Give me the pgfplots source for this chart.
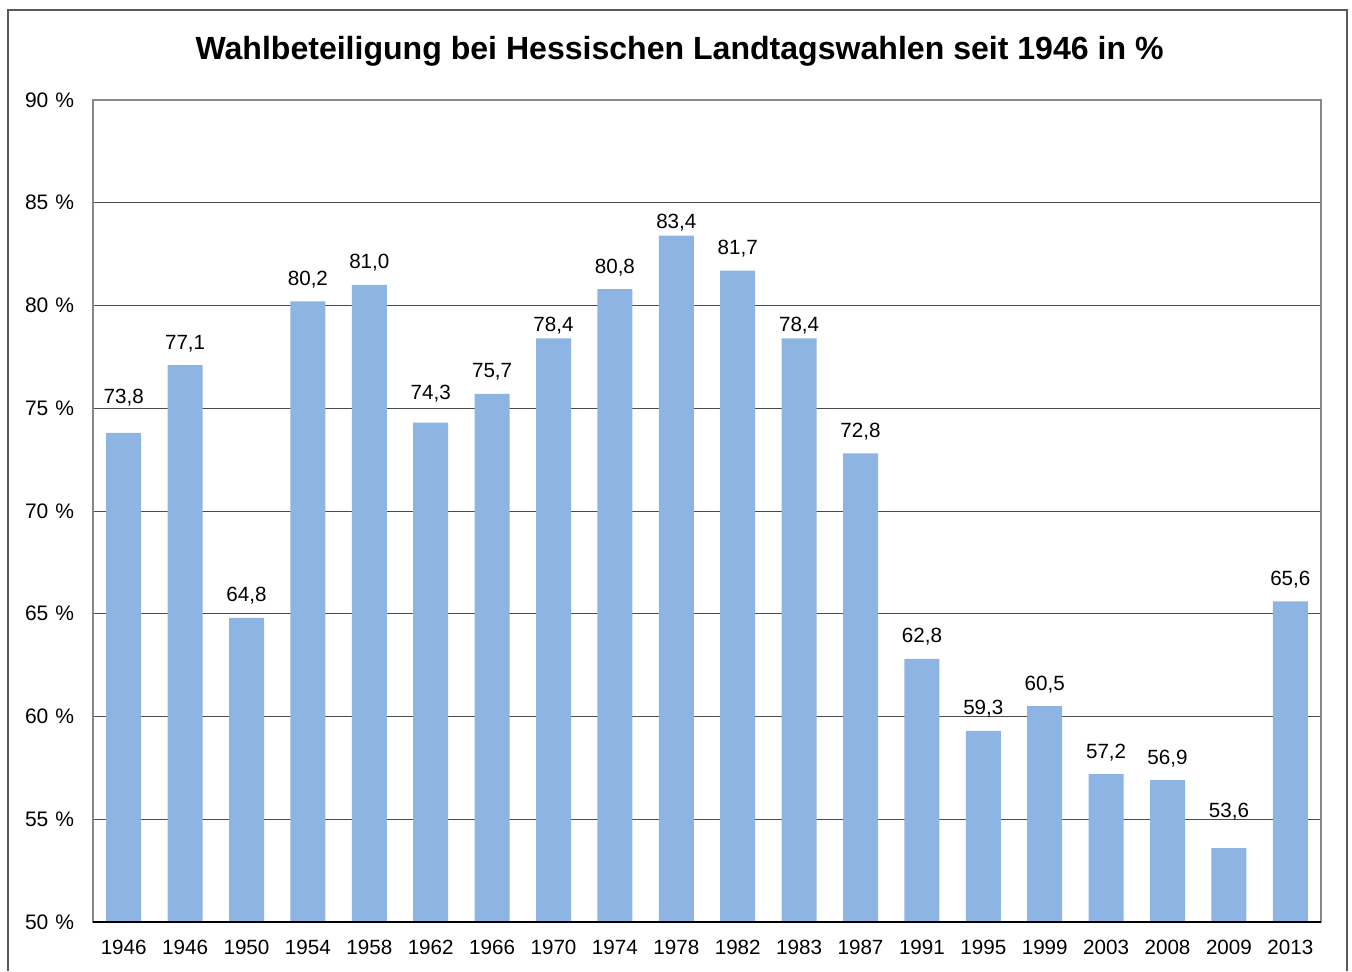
\documentclass[border=0pt]{standalone}
\usepackage{fontspec}
\setmainfont{Liberation Sans}
\usepackage{pgfplots}
\usepackage{pgfplotstable}
\pgfplotsset{compat=1.18}
\definecolor{barblue}{RGB}{142,180,227}
\pgfplotstableread{
x y off
0 73.8 14.5
1 77.1 8
2 64.8 8
3 80.2 8
4 81.0 8
5 74.3 11.5
6 75.7 8
7 78.4 3.5
8 80.8 8
9 83.4 3.5
10 81.7 8
11 78.4 3.5
12 72.8 8
13 62.8 8
14 59.3 8
15 60.5 8
16 57.2 8
17 56.9 8
18 53.6 15.5
19 65.6 8
}\datatable
\begin{document}
\begin{tikzpicture}
\useasboundingbox (0,0) rectangle (676pt,485.5pt);
\draw[black!65, line width=0.6pt] (4pt,0) -- (4pt,480.5pt) -- (673.5pt,480.5pt) -- (673.5pt,0);
\node[font=\fontsize{16.03}{19}\selectfont\bfseries, anchor=base, inner sep=0pt] at (339.75pt,455.5pt) {Wahlbeteiligung bei Hessischen Landtagswahlen seit 1946 in \%};
\begin{axis}[
  at={(46.5pt,24.5pt)}, anchor=south west,
  scale only axis, width=614pt, height=411pt,
  xmin=-0.5, xmax=19.5, ymin=50, ymax=90,
  ytick={50,55,...,90},
  xtick={0,...,19},
  xticklabels={1946,1946,1950,1954,1958,1962,1966,1970,1974,1978,1982,1983,1987,1991,1995,1999,2003,2008,2009,2013},
  major tick length=0pt,
  ymajorgrids, grid style={draw=black!70, line width=0.5pt},
  axis line style={draw=black!47, line width=1pt},
  tick label style={font=\fontsize{10.3}{12}\selectfont},
  yticklabel style={font=\fontsize{10.5}{12}\selectfont},
  /pgf/number format/assume math mode=true,
  yticklabel={\pgfmathprintnumber{\tick}\hspace{0.33em}\%},
  yticklabel style={anchor=east, inner sep=0pt, xshift=-9.3pt},
  xticklabel style={anchor=north, inner sep=0pt, yshift=-9pt},
]
\addplot[ybar, bar width=17.5pt, bar shift=0pt, fill=barblue, draw=none,
  visualization depends on={\thisrow{off} \as \myoff},
  nodes near coords={\pgfmathprintnumber[fixed,fixed zerofill,precision=1,use comma,assume math mode=true]{\pgfplotspointmeta}},
  every node near coord/.append style={anchor=base, inner sep=0pt, yshift=\myoff pt, font=\fontsize{10.3}{12}\selectfont, text=black}
] table[x=x,y=y]{\datatable};
\draw[black, line width=1pt] (rel axis cs:0,0) -- (rel axis cs:1,0);
\end{axis}
\end{tikzpicture}
\end{document}
